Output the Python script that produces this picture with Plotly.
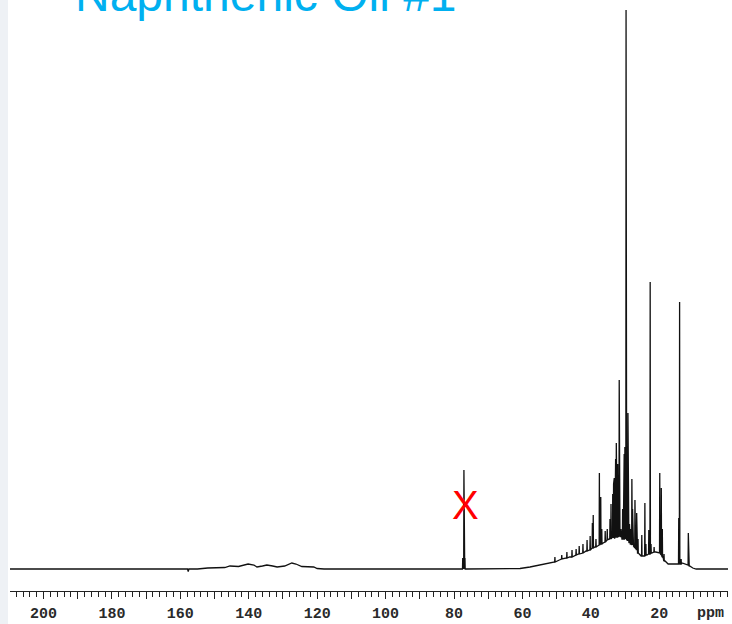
import plotly.graph_objects as go

# ---- data (chemical shift in ppm, intensity in arbitrary units) ----
base_ppm = [209.8, 200, 180, 160, 157.9, 157.7, 157.5, 155, 152, 147, 145.5, 143,
            140.2, 138.5, 137.6, 136, 134.7, 133, 131.7, 129.5, 128.2, 127.4, 126.2,
            124.5, 121, 120, 118, 100, 80, 77.8, 76.4, 75, 72.4, 60.7, 57.8, 54.9,
            52.0, 49.2, 46.2, 43.6, 41.4, 40.35, 38.8, 36.4, 35.5, 34.65, 33.8,
            31.4, 30.9, 28.85, 28.45, 27.35, 26.35, 25.3, 24.6, 23.6, 22.2,
            21.0, 20.3, 18.9, 18.3, 17.4, 15.4, 14.6, 13.3, 12.2, 11.1, 10.2,
            9.2, 5.0, -0.1]
base_level = [0, 0, 0, 0, 0, -2.5, 0, 0, 1, 1.5, 3, 2.5,
              5, 4, 2, 3, 4, 3, 2, 3, 5, 6, 5,
              2.5, 2, 0.5, 0, 0, 0, 0, 0, 0, 0, 0.5, 2, 4,
              6, 9, 12, 15, 18, 19, 22, 26, 28, 30, 32,
              33, 30, 27, 25, 22, 16, 13, 13, 14, 16,
              17, 16, 12, 8, 5, 5, 5, 6, 5, 3, 1,
              0, 0, 0]

peak_ppm = [77.45, 77.25, 77.1, 76.95, 76.8,
            50.5, 48.5, 47.0, 45.5, 44.3, 43.4, 42.3, 41.1, 40.2,
            39.55, 39.3, 38.5, 37.5, 37.1, 36.8, 35.8, 35.2, 34.4, 34.1,
            33.6, 33.35, 33.15, 32.95, 32.75, 32.55, 32.35, 32.15, 31.95,
            31.7, 31.55, 31.2, 30.7, 30.45, 30.25, 30.05, 29.85, 29.7,
            29.45, 29.3, 29.15, 28.95, 28.7, 28.25, 28.0, 27.8, 27.6,
            27.1, 26.85, 26.6, 26.2, 25.1, 24.2, 23.9, 23.05, 22.65,
            22.4, 21.5, 19.85, 19.4, 19.1, 18.6, 14.3, 14.05, 13.6,
            11.5, 11.3]
peak_top = [11, 4, 99, 4, 11,
            12, 14, 17, 19, 20, 23, 25, 29, 33,
            46, 54, 30, 96, 72, 40, 38, 40, 50, 65,
            75, 85, 91, 80, 110, 126, 120, 105, 60,
            189, 50, 40, 60, 100, 115, 122, 110, 559,
            90, 70, 156, 60, 45, 40, 90, 60, 45,
            69, 40, 56, 30, 34, 66, 25, 39, 287,
            25, 22, 96, 81, 40, 15, 51, 267, 10,
            36, 15]
peak_foot = [0, 0, 0, 0, 0,
             7, 10, 11, 12, 14, 15, 16, 18, 19,
             21, 21, 22, 24, 25, 25, 27, 29, 30, 30,
             31, 31, 31, 31, 32, 32, 32, 32, 32,
             33, 33, 32, 30, 30, 30, 30, 30, 30,
             29, 28, 28, 27, 26, 25, 24, 24, 23,
             21, 20, 19, 16, 13, 13, 14, 15, 15,
             16, 17, 16, 14, 12, 8, 5, 5, 5,
             4, 3]

tick_vals = [200, 190, 180, 170, 160, 150, 140, 130, 120, 110, 100,
             90, 80, 70, 60, 50, 40, 30, 20, 10]
tick_text = ["200", "", "180", "", "160", "", "140", "", "120", "", "100",
             "", "80", "", "60", "", "40", "", "20", ""]

title_text = "Naphthenic Oil #1"
solvent_mark = "X"
solvent_ppm = 76.5
solvent_label_y = 64

# ---- assemble trace vertices ----
W = 0.07
pts = list(zip(base_ppm, base_level))
for p, t, f in zip(peak_ppm, peak_top, peak_foot):
    pts += [(p + W, f), (p, t), (p - W, f)]
pts.sort(key=lambda q: -q[0])
xs = [q[0] for q in pts]
ys = [q[1] for q in pts]

tick_font = dict(family="Liberation Mono", size=15, color="#2a2a2a", weight="bold")

fig = go.Figure()
fig.add_trace(go.Scatter(x=xs, y=ys, mode="lines",
                         line=dict(color="#111111", width=1.3),
                         hoverinfo="skip", showlegend=False))

fig.update_layout(
    width=732, height=624,
    margin=dict(l=10, r=4, t=0, b=33),
    paper_bgcolor="white", plot_bgcolor="white",
    showlegend=False,
    xaxis=dict(range=[209.8, -0.1], showgrid=False, zeroline=False, automargin=False,
               showline=True, linecolor="#222222", linewidth=1.3,
               ticks="outside", ticklen=7, tickwidth=1.3, tickcolor="#222222",
               tickvals=tick_vals, ticktext=tick_text,
               tickfont=tick_font, ticklabelstandoff=1,
               minor=dict(dtick=2, tick0=0, ticks="outside", ticklen=5,
                          tickwidth=1.1, tickcolor="#222222", showgrid=False)),
    yaxis=dict(range=[-22, 569], visible=False, fixedrange=True, automargin=False),
    shapes=[dict(type="rect", xref="paper", yref="paper",
                 x0=-10 / 718, x1=-2 / 718, y0=-33 / 591, y1=1.0,
                 fillcolor="#eef1f5", line=dict(width=0), layer="below")],
    annotations=[
        dict(text=title_text, xref="paper", yref="paper", x=63 / 718, y=1 + 5 / 591,
             xanchor="left", yanchor="middle", showarrow=False,
             font=dict(family="Liberation Sans", size=48, color="#00b0f0")),
        dict(text=solvent_mark, xref="x", yref="y", x=solvent_ppm, y=solvent_label_y,
             xanchor="center", yanchor="middle", showarrow=False,
             font=dict(family="Liberation Sans", size=40, color="#ff0000")),
        dict(text="<b>ppm</b>", xref="x", yref="paper", x=4.9, y=-22 / 591,
             xanchor="center", yanchor="middle", showarrow=False,
             font=dict(family="Liberation Mono", size=15, color="#2a2a2a")),
    ],
)

fig.write_html("out.html")
